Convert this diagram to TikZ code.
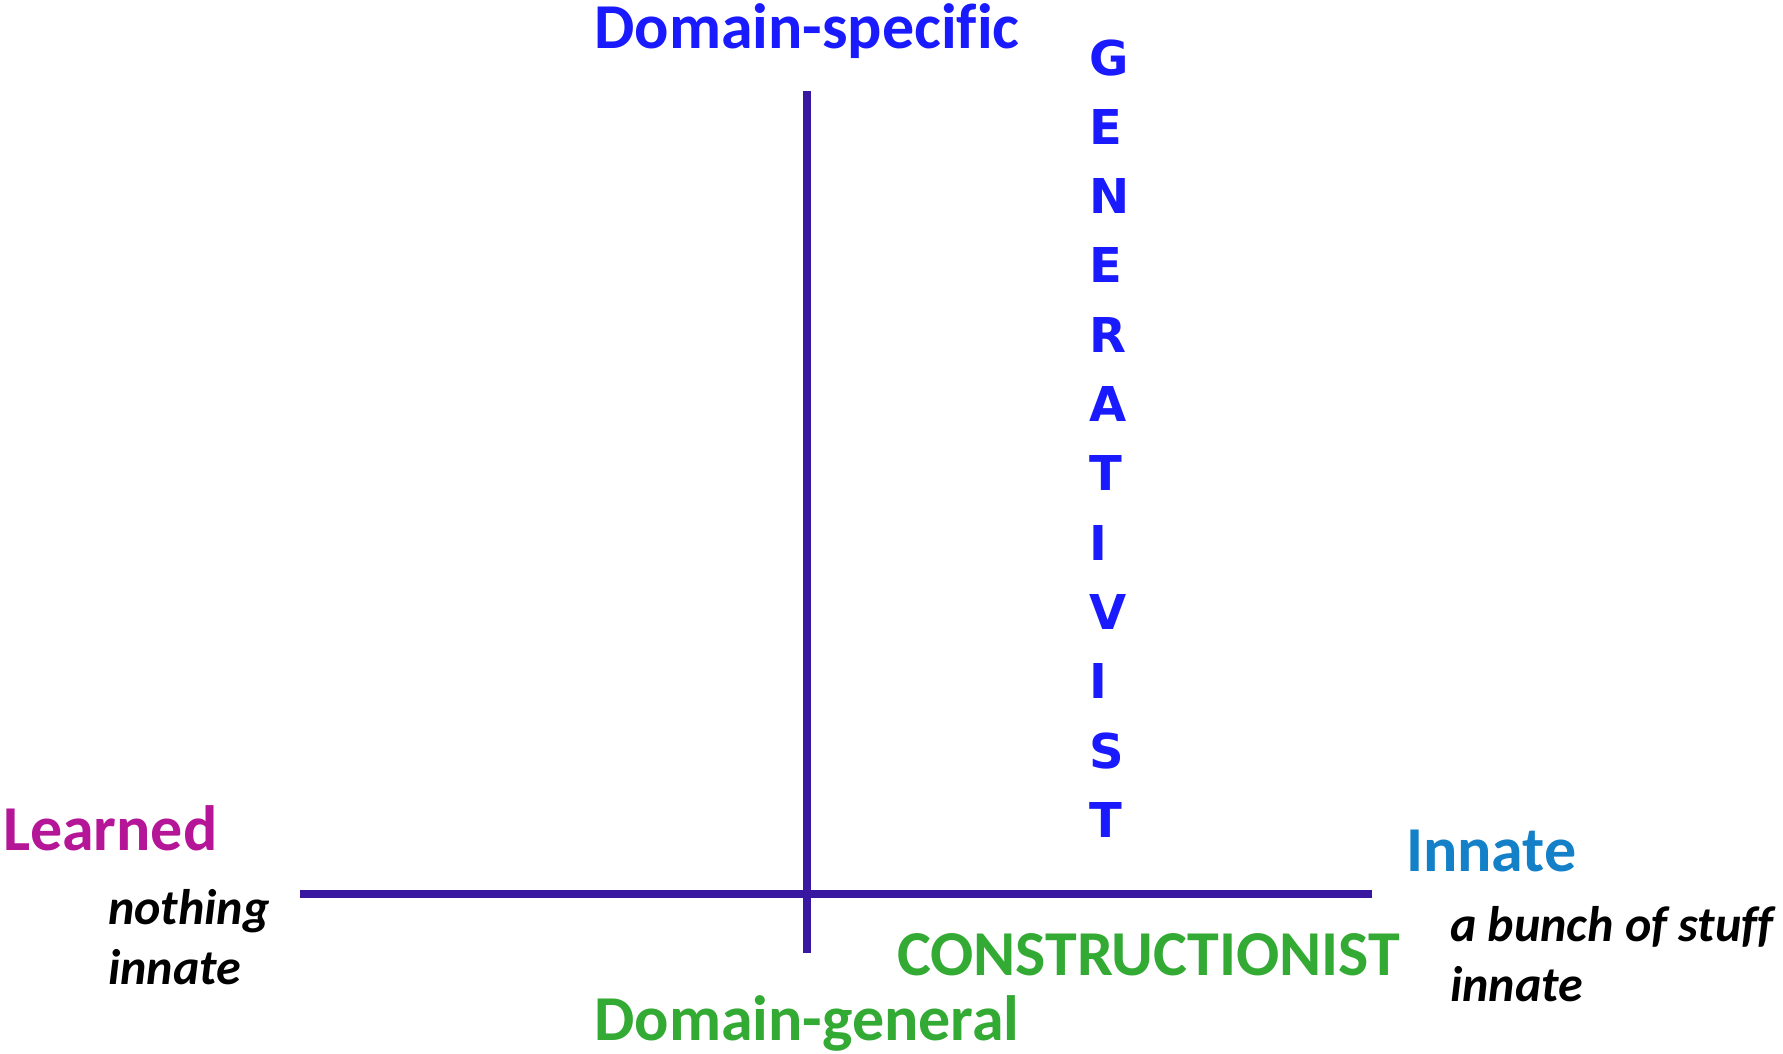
\documentclass[tikz,border=0pt]{standalone}
\usepackage{fontspec}
\setmainfont[Ligatures=NoCommon]{Carlito}
\newfontfamily\dvs{DejaVu Sans}
\definecolor{axiscol}{RGB}{56,24,160}
\definecolor{genblue}{RGB}{26,26,255}
\definecolor{congreen}{RGB}{51,170,51}
\definecolor{learnmag}{RGB}{181,22,152}
\definecolor{innblue}{RGB}{20,128,200}
\tikzset{
  lbl/.style={inner sep=0pt, outer sep=0pt, font=\fontsize{64}{64}\selectfont\bfseries},
  note/.style={inner sep=0pt, outer sep=0pt, anchor=base west, font=\fontsize{50}{60}\selectfont\bfseries\itshape, text=black},
  gen/.style={inner sep=0pt, outer sep=0pt, anchor=base west, text=genblue, font=\fontsize{48}{48}\selectfont\dvs\bfseries},
  axis/.style={draw=axiscol, line width=7.5pt}
}
\begin{document}
\begin{tikzpicture}[x=1pt,y=-1pt]
\useasboundingbox (0,0) rectangle (1783,1053);
\fill[white] (0,0) rectangle (1783,1053);
% axes
\coordinate (vtop) at (807,91);
\coordinate (vbot) at (807,953);
\coordinate (hleft) at (300,894);
\coordinate (hright) at (1372,894);
\draw[axis] (hleft) -- (hright);
\draw[axis] (vtop) -- (vbot);
% labels
\node[lbl, anchor=base, text=genblue] (dspec) at (807,48) {Domain-specific};
\node[lbl, anchor=base, text=congreen] (dgen) at (807,1040) {Domain-general};
\node[lbl, anchor=base west, text=learnmag] (learned) at (3,850) {Learned};
\node[lbl, anchor=base west, text=innblue] (innate) at (1406,871) {Innate};
\node[lbl, anchor=base west, text=congreen] (constr) at (897,975) {CONSTRUCTIONIST};
\node[note] (noth1) at (108,924) {nothing};
\node[note] (noth2) at (108,984) {innate};
\node[note] (bunch1) at (1450,941) {a bunch of stuff};
\node[note] (bunch2) at (1450,1001) {innate};
% GENERATIVIST
\foreach \ch [count=\i from 0] in {G,E,N,E,R,A,T,I,V,I,S,T}{
  \node[gen] (g\i) at (1089,{75+69.3*\i}) {\ch};
}
\end{tikzpicture}
\end{document}
